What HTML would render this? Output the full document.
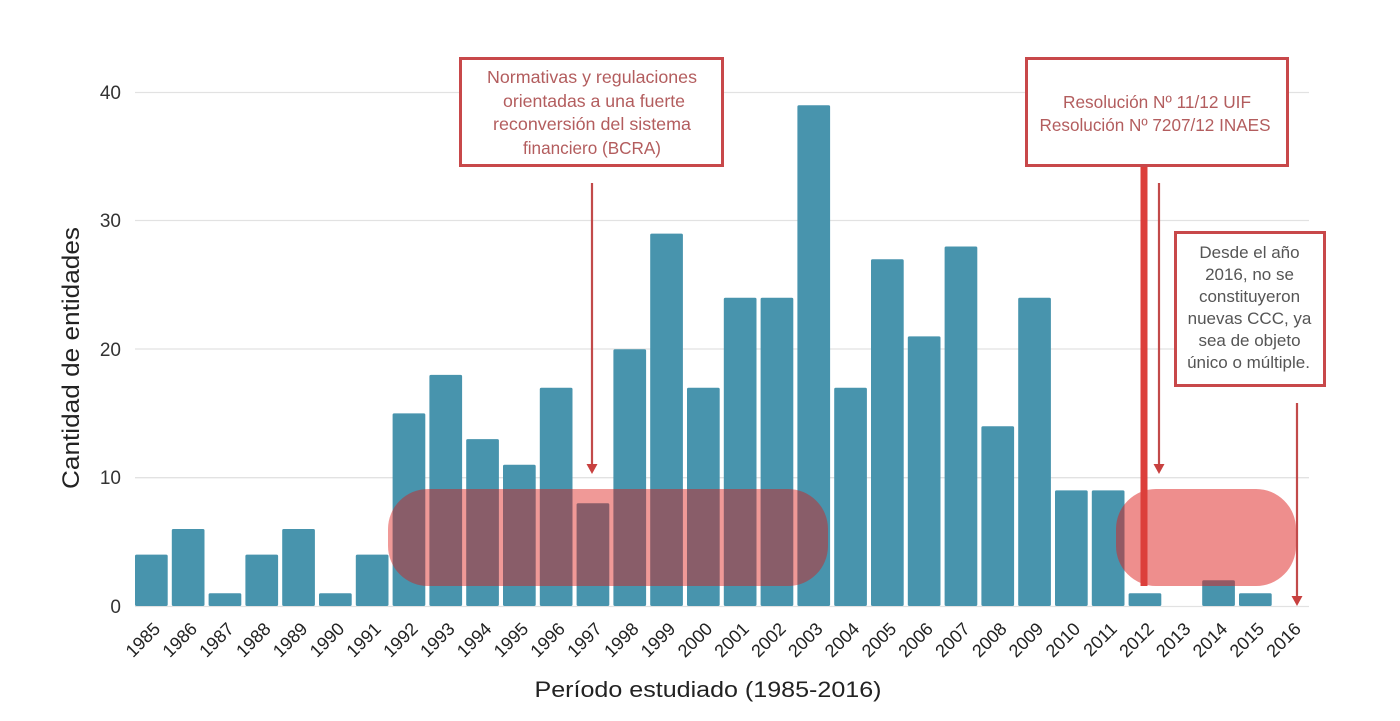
<!DOCTYPE html>
<html><head><meta charset="utf-8"><style>
html,body{margin:0;padding:0;background:#fff;}
svg{display:block;}
text{font-family:"Liberation Sans","DejaVu Sans",sans-serif;}
</style></head><body>
<svg width="1400" height="721" viewBox="0 0 1400 721" xmlns="http://www.w3.org/2000/svg">
<rect width="1400" height="721" fill="#fff"/>
<g stroke="#e2e2e2" stroke-width="1.3">
<line x1="135" y1="92.5" x2="1309" y2="92.5"/>
<line x1="135" y1="220.5" x2="1309" y2="220.5"/>
<line x1="135" y1="349" x2="1309" y2="349"/>
<line x1="135" y1="477.7" x2="1309" y2="477.7"/>
<line x1="135" y1="606.5" x2="1309" y2="606.5"/>
</g>
<g font-size="19" fill="#333" text-anchor="end">
<text x="121" y="99">40</text>
<text x="121" y="227">30</text>
<text x="121" y="356">20</text>
<text x="121" y="484">10</text>
<text x="121" y="613">0</text>
</g>
<text transform="translate(79,358) rotate(-90)" text-anchor="middle" font-size="24" fill="#222" textLength="262" lengthAdjust="spacingAndGlyphs">Cantidad de entidades</text>
<text x="708" y="697" text-anchor="middle" font-size="22" fill="#222" textLength="347" lengthAdjust="spacingAndGlyphs">Período estudiado (1985-2016)</text>
<g fill="#4894ad" id="bars"></g>
<g id="xl" font-size="18" fill="#222" text-anchor="end"></g>
<!-- overlays -->
<rect x="388" y="489" width="440" height="97" rx="40" ry="40" fill="rgba(220,22,18,0.44)"/>
<rect x="1116" y="489" width="180" height="97" rx="40" ry="40" fill="rgba(222,30,28,0.5)"/>
<!-- thick red line -->
<rect x="1140.5" y="166" width="7" height="420" fill="#dc3f3b"/>
<!-- arrows -->
<g stroke="#c24a4a" stroke-width="2.2" fill="none">
<line x1="592" y1="183" x2="592" y2="466"/>
<line x1="1159" y1="183" x2="1159" y2="466"/>
<line x1="1297" y1="403" x2="1297" y2="598"/>
</g>
<g fill="#c8403f">
<polygon points="586.5,464 597.5,464 592,474"/>
<polygon points="1153.5,464 1164.5,464 1159,474"/>
<polygon points="1291.5,596 1302.5,596 1297,606"/>
</g>
<!-- boxes -->
<g fill="#fff" stroke="#c8484a" stroke-width="3">
<rect x="460.5" y="58.5" width="262" height="107"/>
<rect x="1026.5" y="58.5" width="261" height="107"/>
<rect x="1175.5" y="232.5" width="149" height="153"/>
</g>
<g font-size="17.5" fill="#b35d5e" text-anchor="middle">
<text x="592" y="83" textLength="210" lengthAdjust="spacingAndGlyphs">Normativas y regulaciones</text>
<text x="594" y="107" textLength="182" lengthAdjust="spacingAndGlyphs">orientadas a una fuerte</text>
<text x="592" y="130" textLength="198" lengthAdjust="spacingAndGlyphs">reconversión del sistema</text>
<text x="592" y="154" textLength="138" lengthAdjust="spacingAndGlyphs">financiero (BCRA)</text>
<text x="1157" y="108" textLength="188" lengthAdjust="spacingAndGlyphs">Resolución Nº 11/12 UIF</text>
<text x="1155" y="131" textLength="231" lengthAdjust="spacingAndGlyphs">Resolución Nº 7207/12 INAES</text>
</g>
<g font-size="17" fill="#555" text-anchor="middle">
<text x="1249.5" y="258">Desde el año</text>
<text x="1249.5" y="280">2016, no se</text>
<text x="1249.5" y="302">constituyeron</text>
<text x="1249.5" y="324">nuevas CCC, ya</text>
<text x="1249.5" y="346">sea de objeto</text>
<text x="1248.5" y="368">único o múltiple.</text>
</g>
</svg>
<script>
(function(){
var v=[4,6,1,4,6,1,4,15,18,13,11,17,8,20,29,17,24,24,39,17,27,21,28,14,24,9,9,1,0,2,1,0];
var ns="http://www.w3.org/2000/svg";
var bars=document.getElementById("bars"), xl=document.getElementById("xl");
for(var i=0;i<v.length;i++){
 var x=135+36.8*i;
 if(v[i]>0){
  var h=v[i]*12.84;
  var r=document.createElementNS(ns,"rect");
  r.setAttribute("x",x.toFixed(1));r.setAttribute("y",(606-h).toFixed(1));
  r.setAttribute("width","32.7");r.setAttribute("height",h.toFixed(1));
  r.setAttribute("rx","1.5");
  bars.appendChild(r);
 }
 var cx=x+16.35;
 var t=document.createElementNS(ns,"text");
 t.setAttribute("transform","translate("+(cx+10).toFixed(1)+",630) rotate(-45)");
 t.textContent=String(1985+i);
 xl.appendChild(t);
}
})();
</script>
</body></html>
